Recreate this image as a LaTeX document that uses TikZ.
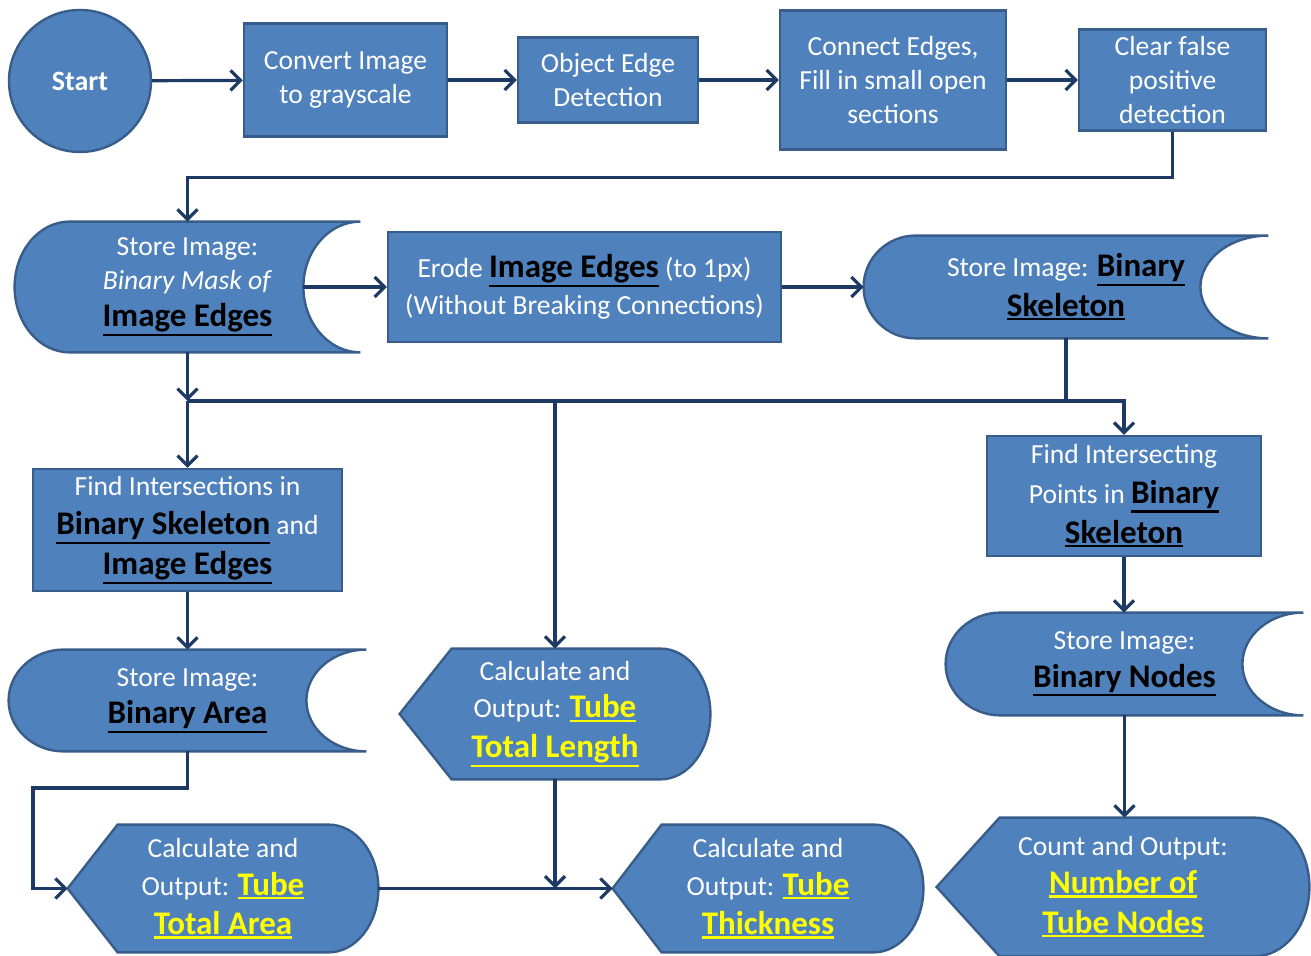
\documentclass[tikz,border=0pt]{standalone}
\usepackage{fontspec}
\setmainfont{Carlito}
\usetikzlibrary{arrows.meta,calc,backgrounds}
\definecolor{boxfill}{HTML}{4F81BD}
\definecolor{boxline}{HTML}{385D8A}
\definecolor{conn}{HTML}{1C3A63}
\definecolor{outy}{HTML}{FFFF00}
\newcommand\myul[1]{\vtop{\hbox{#1}\kern0.8pt\hrule height 1.1pt}}
\newcommand\dn[1]{{\fontsize{16.5}{16.8}\selectfont\bfseries\color{black}\myul{#1}}}
\newcommand\yo[1]{{\fontsize{16.5}{16.8}\selectfont\bfseries\color{outy}\myul{#1}}}
\newcommand\storeshape[3]{%
  \path[shp] let \p1=(#1.north east), \p2=(#1.south west), \n1={(\y1-\y2)/2} in
    (\x2+#2,\y1) -- (\x1,\y1)
    arc[start angle=90,end angle=270,x radius=#3,y radius={\n1*1pt}]
    -- (\x2+#2,\y2)
    arc[start angle=270,end angle=90,x radius=#2,y radius={\n1*1pt}] -- cycle;}
\newcommand\dispshape[3]{%
  \path[shp] let \p1=(#1.north east), \p2=(#1.south west), \n1={(\y1-\y2)/2} in
    (\x2,{(\y1+\y2)/2}) -- (\x2+#2,\y1) -- (\x1-#3,\y1)
    arc[start angle=90,end angle=-90,x radius=#3,y radius={\n1*1pt}]
    -- (\x2+#2,\y2) -- cycle;}
\tikzset{
  base/.style={font=\fontsize{13.8}{16.8}\selectfont, text=white, align=center, inner sep=0pt},
  procbox/.style={base, rectangle, fill=boxfill, draw=boxline, line width=1.2pt},
  shapenode/.style={base, rectangle},
  shp/.style={fill=boxfill, draw=boxline, line width=1.2pt},
  ln/.style={draw=conn, line width=1.6pt},
  arr/.style={ln, -{Straight Barb[length=5pt,width=10pt]}},
}
\begin{document}
\begin{tikzpicture}[x=0.5pt,y=0.5pt]
\useasboundingbox (0,0) rectangle (1311,956);
% nodes
\node[procbox, circle, minimum size=71pt, font=\fontsize{14}{16.8}\selectfont\bfseries] (start) at (80,875) {Start};
\node[procbox, minimum width=101.5pt, minimum height=56.5pt] (convert) at (345.5,876) {Convert Image\\to grayscale};
\node[procbox, minimum width=90pt, minimum height=42.5pt] (object) at (608,876) {Object Edge\\Detection};
\node[procbox, minimum width=113pt, minimum height=69.5pt] (connect) at (893,876) {Connect Edges,\\Fill in small open\\sections};
\node[procbox, minimum width=93.5pt, minimum height=50.5pt] (clear) at (1172.5,876) {Clear false\\positive\\detection};

\node[shapenode, minimum width=172.5pt, minimum height=65pt] (s1) at (187.5,669) {Store Image:\\\textit{Binary Mask of}\\[2pt]\dn{Image Edges}};
\node[procbox, minimum width=196.5pt, minimum height=55pt] (erode) at (584.5,669) {Erode \dn{Image Edges} (to 1px)\\[2pt](Without Breaking Connections)};
\node[shapenode, minimum width=202pt, minimum height=51pt] (s2) at (1066,669) {Store Image: \dn{Binary}\\[3pt]\dn{Skeleton}};

\node[procbox, minimum width=154.5pt, minimum height=61pt] (find1) at (187.5,426) {Find Intersections in\\[3pt]\dn{Binary Skeleton} and\\[3pt]\dn{Image Edges}};
\node[procbox, minimum width=137pt, minimum height=60pt] (find2) at (1124,460) {Find Intersecting\\[3pt]Points in \dn{Binary}\\[3pt]\dn{Skeleton}};

\node[shapenode, minimum width=178.5pt, minimum height=50.5pt] (s3) at (187.5,255.5) {Store Image:\\[2pt]\dn{Binary Area}};
\node[shapenode, minimum width=178.5pt, minimum height=51pt] (s4) at (1124.5,292) {Store Image:\\[2pt]\dn{Binary Nodes}};

\node[shapenode, minimum width=155pt, minimum height=65pt] (dL) at (555,242) {Calculate and\\[2pt]Output: \yo{Tube}\\[3pt]\yo{Total Length}};
\node[shapenode, minimum width=155pt, minimum height=63.5pt] (dA) at (223,67.5) {Calculate and\\[2pt]Output: \yo{Tube}\\[3pt]\yo{Total Area}};
\node[shapenode, minimum width=155pt, minimum height=63.5pt] (dT) at (768,67.5) {Calculate and\\[2pt]Output: \yo{Tube}\\[3pt]\yo{Thickness}};
\node[shapenode, minimum width=186pt, minimum height=69pt] (dC) at (1123,69) {Count and Output:\\[2pt]\yo{Number of}\\[3pt]\yo{Tube Nodes}};

\begin{pgfonlayer}{background}
\fill[white] (0,0) rectangle (1311,956);
\storeshape{s1}{27.5pt}{28.5pt}
\storeshape{s2}{26pt}{34pt}
\storeshape{s3}{27.5pt}{30pt}
\storeshape{s4}{27.5pt}{30.5pt}
\dispshape{dL}{26pt}{25pt}
\dispshape{dA}{25pt}{25pt}
\dispshape{dT}{24.5pt}{25pt}
\dispshape{dC}{31.5pt}{27.5pt}
\end{pgfonlayer}

% connectors
\draw[arr] (start) -- (convert);
\draw[arr] (convert) -- (object);
\draw[arr] (object) -- (connect);
\draw[arr] (connect) -- (clear);
\draw[arr] (clear.south) -- ++(0,-46) -| (s1.north);
\draw[arr] ([xshift=-28.5pt]s1.east) -- (erode.west);
\draw[arr] (erode.east) -- (s2.west);
\coordinate (j1) at (187.5,555);
\coordinate (j2) at (1066,555);
\coordinate (j3) at (555,555);
\draw[arr] (s1.south) -- (j1);
\draw[ln] (j1) -- (j2);
\draw[ln] (s2.south) -- (j2);
\draw[arr] (j2) -| (find2.north);
\draw[arr] (j1) -- (find1.north);
\draw[arr] (j3) -- (dL.north);
\draw[arr] (find1.south) -- (s3.north);
\coordinate (c1) at (33,168);
\draw[arr] (s3.south) |- (c1) |- (dA.west);
\draw[arr] (dL.south) -- (dL.south |- dA.east);
\draw[arr] (dA.east) -- (dT.west);
\draw[arr] (find2.south) -- (find2.south |- s4.north);
\draw[arr] (s4.south) -- (s4.south |- dC.north);
\end{tikzpicture}
\end{document}
